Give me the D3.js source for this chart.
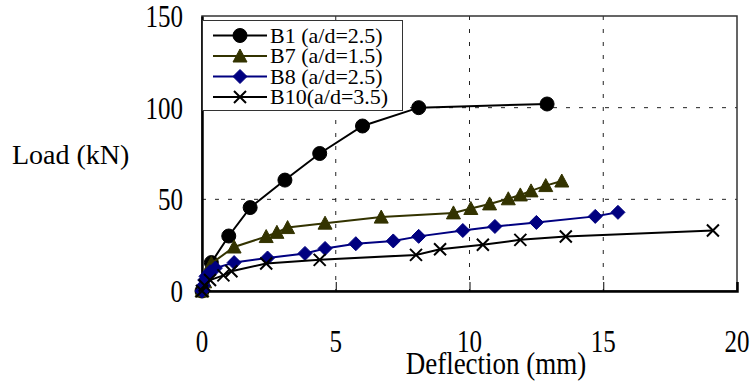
<!DOCTYPE html>
<html>
<head>
<meta charset="utf-8">
<script src="https://cdn.jsdelivr.net/npm/d3@7"></script>
<style>
  body { margin: 0; background: #fff; }
  #wrap { position: relative; width: 751px; height: 385px; }
  #wrap svg { position: absolute; left: 0; top: 0; }
  .lbl { position: absolute; font-family: 'Liberation Serif', 'Times New Roman', serif; color: #000; white-space: nowrap; }
</style>
</head>
<body>
<div id="wrap"></div>
<script>
// load-deflection readings (mm, kN)
const b1Defl = [0, 0.35, 1.0, 1.8, 3.1, 4.4, 6.0, 8.1, 12.9];
const b1Load = [0, 15.5, 30, 45.5, 60.5, 75, 90, 100, 102];
const b7Defl = [0, 0.1, 0.35, 1.2, 2.4, 2.8, 3.2, 4.6, 6.7, 9.4, 10.05, 10.75, 11.45, 11.9, 12.3, 12.85, 13.45];
const b7Load = [0, 5, 15, 24, 29.7, 32, 34.6, 37, 40.3, 42.6, 45, 47.5, 50.3, 52.4, 54.6, 57.5, 60];
const b8Defl = [0, 0.05, 0.1, 0.15, 0.3, 0.5, 1.2, 2.45, 3.85, 4.6, 5.75, 7.15, 8.1, 9.75, 10.95, 12.5, 14.7, 15.55];
const b8Load = [0, 3, 6, 8, 10.5, 12.5, 15.5, 18, 20.5, 23.2, 25.8, 27.3, 29.8, 33, 35.2, 37.4, 40.7, 42.9];
const b10Defl = [0, 0.1, 0.3, 0.8, 1.1, 2.4, 4.4, 8.0, 8.9, 10.5, 11.9, 13.6, 19.1];
const b10Load = [0, 3, 6, 8.5, 10.8, 15, 17, 19.7, 22.8, 25.2, 27.9, 29.7, 33];

const seriesNames = ['B1 (a/d=2.5)', 'B7 (a/d=1.5)', 'B8 (a/d=2.5)', 'B10(a/d=3.5)'];
const xTicks = [0, 5, 10, 15, 20];
const yTicks = [0, 50, 100, 150];

const width = 751;
const height = 385;
const plot = {left: 202, right: 737, top: 16, bottom: 291};

const wrap = d3.select('#wrap');
const svg = wrap.append('svg')
    .attr('width', width)
    .attr('height', height);

const x = d3.scaleLinear().domain([0, 20]).range([plot.left, plot.right]);
const y = d3.scaleLinear().domain([0, 150]).range([plot.bottom, plot.top]);

const series = [
    {name: seriesNames[0], xs: b1Defl, ys: b1Load, color: '#000000', fill: '#000000', marker: 'circle'},
    {name: seriesNames[1], xs: b7Defl, ys: b7Load, color: '#333300', fill: '#333300', marker: 'triangle'},
    {name: seriesNames[2], xs: b8Defl, ys: b8Load, color: '#000080', fill: '#000080', marker: 'diamond'},
    {name: seriesNames[3], xs: b10Defl, ys: b10Load, color: '#000000', fill: 'none', marker: 'cross'}
];

// text goes in html on top of the svg, placed by its baseline
function addLabel(txt, px, baseline, size, anchor, sy) {
    const shift = anchor === 'middle' ? '-50%' : anchor === 'end' ? '-100%' : '0';
    return wrap.append('div')
        .attr('class', 'lbl')
        .style('left', px + 'px')
        .style('top', (baseline - 0.8375 * size) + 'px')
        .style('font-size', size + 'px')
        .style('line-height', size + 'px')
        .style('transform-origin', '0 0.8375em')
        .style('transform', `translateX(${shift}) scaleY(${sy})`)
        .text(txt);
}

// dashed grid
svg.append('g')
    .selectAll('line')
    .data(xTicks.filter(v => v > 0 && v < 20))
    .join('line')
    .attr('x1', d => x(d)).attr('x2', d => x(d))
    .attr('y1', plot.top).attr('y2', plot.bottom)
    .attr('stroke', '#222').attr('stroke-width', 1)
    .attr('stroke-dasharray', '4,9');

svg.append('g')
    .selectAll('line')
    .data(yTicks.filter(v => v > 0 && v < 150))
    .join('line')
    .attr('x1', plot.left).attr('x2', plot.right)
    .attr('y1', d => y(d)).attr('y2', d => y(d))
    .attr('stroke', '#222').attr('stroke-width', 1)
    .attr('stroke-dasharray', '4,9');

// plot frame
svg.append('rect')
    .attr('x', plot.left).attr('y', plot.top)
    .attr('width', plot.right - plot.left)
    .attr('height', plot.bottom - plot.top)
    .attr('fill', 'none')
    .attr('stroke', '#333').attr('stroke-width', 1.5);

// axes
const xAxis = d3.axisBottom(x).tickValues(xTicks).tickSize(-9).tickFormat('');
svg.append('g')
    .attr('transform', `translate(0,${plot.bottom})`)
    .call(xAxis)
    .call(g => g.select('.domain').attr('stroke', '#000').attr('stroke-width', 2.5))
    .call(g => g.selectAll('.tick line').attr('stroke', '#000').attr('stroke-width', 1));

const yAxis = d3.axisLeft(y).tickValues(yTicks).tickSize(0).tickFormat('');
svg.append('g')
    .attr('transform', `translate(${plot.left},0)`)
    .call(yAxis)
    .call(g => g.select('.domain').attr('stroke', '#000').attr('stroke-width', 2.5));

// tick labels and titles (source picture is a bit stretched vertically)
xTicks.forEach(v => addLabel(v, x(v), 352, 25, 'middle', 1.25));
yTicks.forEach(v => addLabel(v, 183, y(v) + 11, 25, 'end', 1.25));
addLabel('Deflection (mm)', 496, 375, 27, 'middle', 1.18);
addLabel('Load (kN)', 12, 164, 28, 'start', 1);

// markers
function drawMarker(sel, type, color, fill) {
    if (type === 'circle') {
        sel.append('circle').attr('r', 7).attr('fill', fill).attr('stroke', color);
    } else if (type === 'triangle') {
        sel.append('path').attr('d', 'M0,-7L7,6L-7,6Z').attr('fill', fill).attr('stroke', color);
    } else if (type === 'diamond') {
        sel.append('path').attr('d', 'M0,-7L7,0L0,7L-7,0Z').attr('fill', fill).attr('stroke', color);
    } else {
        sel.append('path').attr('d', 'M-6,-6L6,6M-6,6L6,-6')
            .attr('fill', 'none').attr('stroke', color).attr('stroke-width', 2);
    }
}

const line = d3.line().x(d => x(d[0])).y(d => y(d[1]));

series.forEach(s => {
    const pts = s.xs.map((v, i) => [v, s.ys[i]]);
    svg.append('path')
        .datum(pts)
        .attr('d', line)
        .attr('fill', 'none')
        .attr('stroke', s.color)
        .attr('stroke-width', 2);
    svg.append('g')
        .selectAll('g')
        .data(pts)
        .join('g')
        .attr('transform', d => `translate(${x(d[0])},${y(d[1])})`)
        .each(function () { drawMarker(d3.select(this), s.marker, s.color, s.fill); });
});

// legend
const legend = svg.append('g');
legend.append('rect')
    .attr('x', 202.5).attr('y', 20.5)
    .attr('width', 200).attr('height', 90)
    .attr('fill', '#fff')
    .attr('stroke', '#333').attr('stroke-width', 1);

const legendRow = d3.scaleLinear().domain([0, 3]).range([35.5, 97]);
series.forEach((s, i) => {
    const ly = legendRow(i);
    legend.append('line')
        .attr('x1', 213).attr('x2', 267)
        .attr('y1', ly).attr('y2', ly)
        .attr('stroke', s.color).attr('stroke-width', 2);
    const m = legend.append('g').attr('transform', `translate(240,${ly})`);
    drawMarker(m, s.marker, s.color, s.fill);
    addLabel(s.name, 270, ly + 7.5, 22, 'start', 1);
});
</script>
</body>
</html>
